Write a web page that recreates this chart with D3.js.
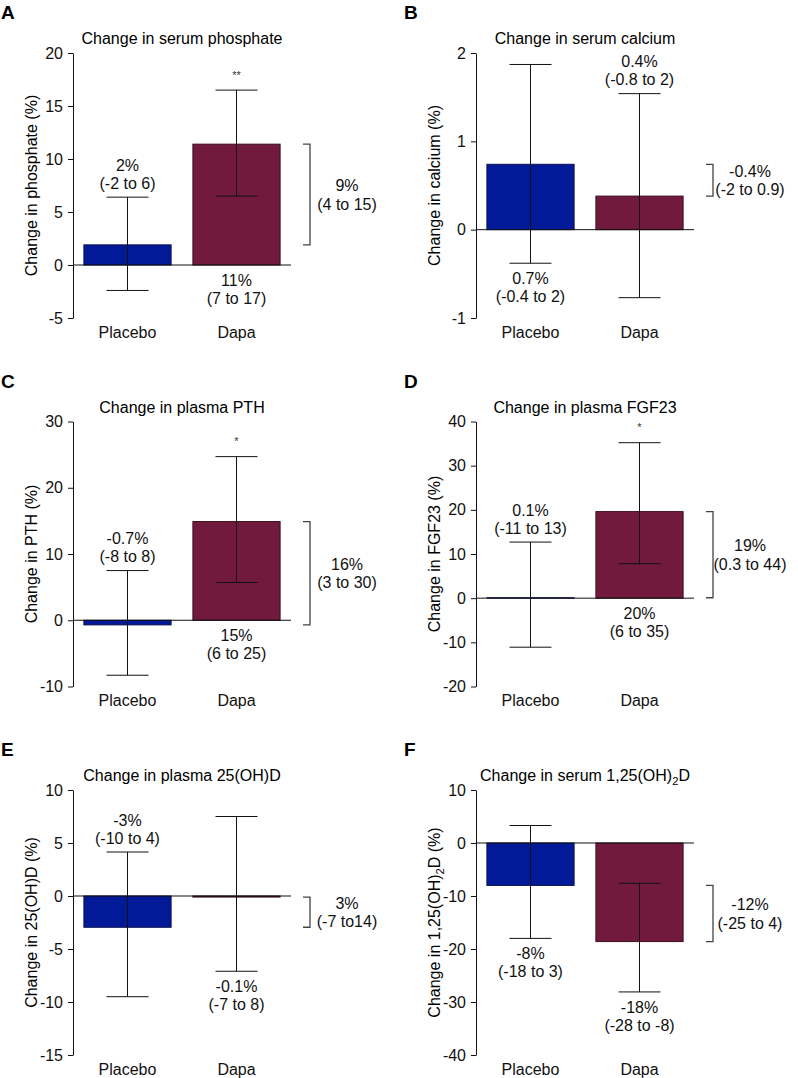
<!DOCTYPE html>
<html>
<head>
<meta charset="utf-8">
<script src="https://cdn.jsdelivr.net/npm/d3@7"></script>
<style>
  body { margin: 0; background: #fff; }
  svg { display: block; font-family: 'Liberation Sans', Arial, sans-serif; }
</style>
</head>
<body>
<div id="chart"></div>
<script>
// ── Data ──────────────────────────────────────────────────
const panelLetters = ['A', 'B', 'C', 'D', 'E', 'F'];
const titles = [
    'Change in serum phosphate', 'Change in serum calcium',
    'Change in plasma PTH', 'Change in plasma FGF23',
    'Change in plasma 25(OH)D', 'Change in serum 1,25(OH)|2|D'
];
const yLabels = [
    'Change in phosphate (%)', 'Change in calcium (%)',
    'Change in PTH (%)', 'Change in FGF23 (%)',
    'Change in 25(OH)D (%)', 'Change in 1,25(OH)|2|D (%)'
];
const groups = ['Placebo', 'Dapa'];
const yDomains = [[-5, 20], [-1, 2], [-10, 30], [-20, 40], [-15, 10], [-40, 10]];
const yTicks = [
    [-5, 0, 5, 10, 15, 20], [-1, 0, 1, 2], [-10, 0, 10, 20, 30],
    [-20, -10, 0, 10, 20, 30, 40], [-15, -10, -5, 0, 5, 10], [-40, -30, -20, -10, 0, 10]
];

const placeboMean = [1.9, 0.74, -0.7, 0.1, -2.95, -8.0];
const placeboLow = [-2.4, -0.38, -8.3, -11.1, -9.5, -18.0];
const placeboHigh = [6.4, 1.87, 7.5, 12.7, 4.15, 3.3];
const dapaMean = [11.4, 0.38, 14.9, 19.6, -0.1, -18.6];
const dapaLow = [6.5, -0.77, 5.7, 7.8, -7.1, -28.1];
const dapaHigh = [16.5, 1.54, 24.7, 35.2, 7.5, -7.6];

const placeboText = [
    ['2%', '(-2 to 6)'], ['0.7%', '(-0.4 to 2)'], ['-0.7%', '(-8 to 8)'],
    ['0.1%', '(-11 to 13)'], ['-3%', '(-10 to 4)'], ['-8%', '(-18 to 3)']
];
const dapaText = [
    ['11%', '(7 to 17)'], ['0.4%', '(-0.8 to 2)'], ['15%', '(6 to 25)'],
    ['20%', '(6 to 35)'], ['-0.1%', '(-7 to 8)'], ['-18%', '(-28 to -8)']
];
const diffText = [
    ['9%', '(4 to 15)'], ['-0.4%', '(-2 to 0.9)'], ['16%', '(3 to 30)'],
    ['19%', '(0.3 to 44)'], ['3%', '(-7 to14)'], ['-12%', '(-25 to 4)']
];
// where each group's label sits: above the CI, below the CI, or under the zero line
const placeboSide = ['above', 'below', 'above', 'above', 'above', 'below'];
const dapaSide = ['zero', 'above', 'zero', 'zero', 'below', 'below'];
const stars = ['**', '', '*', '*', '', ''];

// ── Layout ────────────────────────────────────────────────
const W = 798, H = 1078;
const colX = [73, 476];
const rowY = [53, 421.5, 790];
const plotW = 218, plotH = 265;
const fs = 16;
const blue = '#021a97', maroon = '#721a3d';

const svg = d3.select('#chart').append('svg')
    .attr('width', W)
    .attr('height', H);

// text with "|x|" marking a subscript
function richText(sel, str) {
    str.split('|').forEach((part, i) => {
        const t = sel.append('tspan').text(part);
        if (i % 2 === 1) t.attr('font-size', fs * 0.7).attr('dy', 4);
        else if (i > 0) t.attr('dy', -4);
    });
}

panelLetters.forEach((letter, i) => {
    const ox = colX[i % 2];
    const oy = rowY[Math.floor(i / 2)];
    const g = svg.append('g').attr('transform', `translate(${ox},${oy})`);

    const x = d3.scaleBand().domain(groups).range([0, plotW])
        .paddingInner(0.2).paddingOuter(0.1);
    const y = d3.scaleLinear().domain(yDomains[i]).range([plotH, 0]);

    // panel letter
    g.append('text')
        .attr('x', -72).attr('y', -34)
        .attr('font-size', 19).attr('font-weight', 'bold')
        .text(letter);

    // title
    richText(g.append('text')
        .attr('x', plotW / 2).attr('y', -9)
        .attr('text-anchor', 'middle')
        .attr('font-size', fs), titles[i]);

    // y axis
    const axis = g.append('g')
        .call(d3.axisLeft(y).tickValues(yTicks[i]).tickFormat(d => String(d))
            .tickSize(5).tickSizeOuter(0).tickPadding(5));
    axis.selectAll('text').attr('font-size', fs).attr('fill', '#111').attr('font-family', null);
    axis.selectAll('line, path').attr('stroke', '#111');

    // y label
    richText(g.append('text')
        .attr('transform', `translate(-42,${plotH / 2}) rotate(-90)`)
        .attr('text-anchor', 'middle')
        .attr('dy', '0.35em')
        .attr('font-size', fs), yLabels[i]);

    // bars
    const rows = [
        { grp: 'Placebo', mean: placeboMean[i], lo: placeboLow[i], hi: placeboHigh[i], color: blue, stroke: '#0a1050', txt: placeboText[i], side: placeboSide[i] },
        { grp: 'Dapa', mean: dapaMean[i], lo: dapaLow[i], hi: dapaHigh[i], color: maroon, stroke: '#3a0d1f', txt: dapaText[i], side: dapaSide[i] }
    ];

    g.append('g').selectAll('rect')
        .data(rows)
        .join('rect')
        .attr('x', d => x(d.grp))
        .attr('width', x.bandwidth())
        .attr('y', d => y(Math.max(0, d.mean)))
        .attr('height', d => Math.abs(y(d.mean) - y(0)))
        .attr('fill', d => d.color)
        .attr('stroke', d => d.stroke)
        .attr('stroke-width', 1);

    // zero line
    g.append('line')
        .attr('x1', 0).attr('x2', plotW)
        .attr('y1', y(0)).attr('y2', y(0))
        .attr('stroke', '#111');

    // error bars
    const cx = d => x(d.grp) + x.bandwidth() / 2;
    const err = g.append('g').attr('stroke', '#111').attr('stroke-width', 1);
    err.selectAll('.stem').data(rows).join('line')
        .attr('x1', cx).attr('x2', cx)
        .attr('y1', d => y(d.hi)).attr('y2', d => y(d.lo));
    err.selectAll('.cap-hi').data(rows).join('line')
        .attr('x1', d => cx(d) - 21).attr('x2', d => cx(d) + 21)
        .attr('y1', d => y(d.hi)).attr('y2', d => y(d.hi));
    err.selectAll('.cap-lo').data(rows).join('line')
        .attr('x1', d => cx(d) - 21).attr('x2', d => cx(d) + 21)
        .attr('y1', d => y(d.lo)).attr('y2', d => y(d.lo));

    // value labels
    rows.forEach(d => {
        let y1, y2;
        if (d.side === 'above') { y1 = y(d.hi) - 32; y2 = y(d.hi) - 14; }
        else if (d.side === 'below') { y1 = y(d.lo) + 15; y2 = y(d.lo) + 33; }
        else { y1 = y(0) + 15; y2 = y(0) + 33; }
        [y1, y2].forEach((yy, k) => {
            g.append('text')
                .attr('x', cx(d)).attr('y', yy)
                .attr('dy', '0.35em')
                .attr('text-anchor', 'middle')
                .attr('font-size', fs)
                .attr('fill', '#111')
                .text(d.txt[k]);
        });
    });

    // significance stars
    if (stars[i]) {
        g.append('text')
            .attr('x', cx(rows[1])).attr('y', y(rows[1].hi) - 18)
            .attr('dy', '0.6em')
            .attr('text-anchor', 'middle')
            .attr('font-size', 11)
            .attr('fill', '#333')
            .text(stars[i]);
    }

    // difference bracket
    const bx = 230;
    const yA = y(rows[1].mean), yB = y(rows[0].mean);
    g.append('path')
        .attr('d', `M${bx},${yA}H${bx + 7}V${yB}H${bx}`)
        .attr('fill', 'none')
        .attr('stroke', '#444')
        .attr('stroke-width', 1.3);
    const mid = (yA + yB) / 2;
    diffText[i].forEach((t, k) => {
        g.append('text')
            .attr('x', bx + 44).attr('y', mid - 9 + k * 18.5)
            .attr('dy', '0.35em')
            .attr('text-anchor', 'middle')
            .attr('font-size', fs)
            .attr('fill', '#111')
            .text(t);
    });

    // group labels
    g.append('g').selectAll('text')
        .data(groups)
        .join('text')
        .attr('x', d => x(d) + x.bandwidth() / 2)
        .attr('y', plotH + 14)
        .attr('dy', '0.35em')
        .attr('text-anchor', 'middle')
        .attr('font-size', fs)
        .attr('fill', '#111')
        .text(d => d);
});
</script>
</body>
</html>
